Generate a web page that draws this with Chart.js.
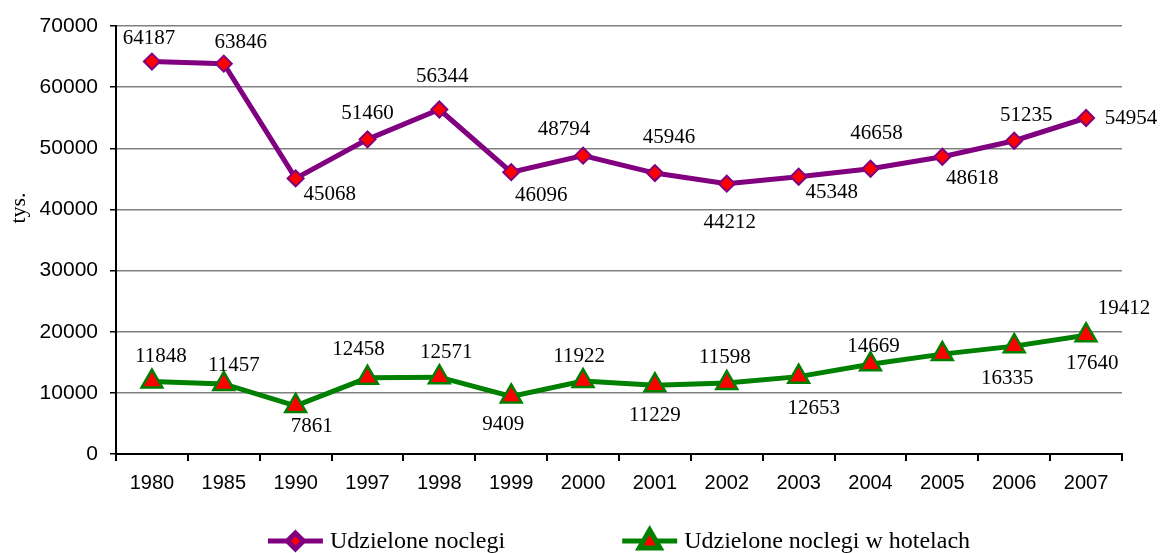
<!DOCTYPE html>
<html>
<head>
<meta charset="utf-8">
<script src="https://cdn.jsdelivr.net/npm/chart.js@4/dist/chart.umd.min.js"></script>
<style>
  body { margin: 0; background: #fff; }
  #wrap { width: 1162px; height: 553px; }
</style>
</head>
<body>
<div id="wrap"><canvas id="noclegi" width="1162" height="553"></canvas></div>
<script>
'use strict'

var years = ['1980','1985','1990','1997','1998','1999','2000','2001','2002','2003','2004','2005','2006','2007'];

var noclegi = [64187,63846,45068,51460,56344,46096,48794,45946,44212,45348,46658,48618,51235,54954];
var hotele  = [11848,11457,7861,12458,12571,9409,11922,11229,11598,12653,14669,16335,17640,19412];

var yTicks = [0,10000,20000,30000,40000,50000,60000,70000];

// label offsets in px from each point (as placed in the original)
var offNoclegi = [[-3,-23],[17,-21],[34,16],[0,-26],[3,-33],[30,23],[-19,-26],[14,-36],[3,39],[33,16],[6,-35],[30,22],[12,-25],[45,0]];
var offHotele  = [[9,-25],[10,-18],[16,21],[-9,-28],[7,-25],[-8,28],[-4,-25],[0,30],[-2,-26],[15,32],[3,-18],[65,24],[78,17],[38,-27]];

var PURPLE = '#800080', GREEN = '#008000', RED = '#ff0000';
var SERIF = '"Liberation Serif", "Times New Roman", serif';
var SANS = '"Liberation Sans", Arial, sans-serif';

function drawMarker(ctx, style, x, y) {
  if (style === 'rectRot') {
    Chart.helpers.drawPoint(ctx, {pointStyle: 'rectRot', radius: 8, borderWidth: 2}, x, y);
  } else {
    Chart.helpers.drawPoint(ctx, {pointStyle: 'triangle', radius: 12, borderWidth: 2.5}, x, y + 1);
  }
}

var extras = {
  id: 'extras',
  afterDatasetsDraw: function(chart) {
    var ctx = chart.ctx;
    var offs = [offNoclegi, offHotele];
    ctx.save();
    ctx.fillStyle = '#000';
    ctx.font = '21px ' + SERIF;
    ctx.textAlign = 'center';
    ctx.textBaseline = 'middle';
    chart.data.datasets.forEach(function(ds, d) {
      chart.getDatasetMeta(d).data.forEach(function(pt, i) {
        ctx.fillText(String(ds.data[i]), pt.x + offs[d][i][0], pt.y + offs[d][i][1]);
      });
    });

    // axis title
    ctx.save();
    ctx.translate(19, 208);
    ctx.rotate(-Math.PI / 2);
    ctx.font = '22px ' + SERIF;
    ctx.fillText('tys.', 0, 0);
    ctx.restore();

    // legend
    var area = chart.chartArea;
    ctx.font = '24px ' + SERIF;
    ctx.textAlign = 'left';
    var lineW = 55, gap = 7, between = 117;
    var items = chart.data.datasets.map(function(ds) {
      return {ds: ds, w: ctx.measureText(ds.label).width};
    });
    var total = items.reduce(function(s, it) { return s + lineW + gap + it.w; }, 0) + between * (items.length - 1);
    var x = (area.left + area.right) / 2 - total / 2;
    var y = 541;
    items.forEach(function(it) {
      ctx.strokeStyle = it.ds.borderColor;
      ctx.lineWidth = 5;
      ctx.beginPath();
      ctx.moveTo(x, y);
      ctx.lineTo(x + lineW, y);
      ctx.stroke();
      ctx.fillStyle = RED;
      ctx.strokeStyle = it.ds.pointBorderColor;
      drawMarker(ctx, it.ds.pointStyle, x + lineW / 2, y);
      ctx.fillStyle = '#000';
      ctx.fillText(it.ds.label, x + lineW + gap, y + 1);
      x += lineW + gap + it.w + between;
    });
    ctx.restore();
  }
};

var ctx = document.getElementById('noclegi');
var mychart = new Chart(ctx, {
  type: 'line',
  data: {
    labels: years,
    datasets: [{
      label: 'Udzielone noclegi',
      data: noclegi,
      borderColor: PURPLE,
      borderWidth: 5,
      pointStyle: 'rectRot',
      pointRadius: 8,
      pointBackgroundColor: RED,
      pointBorderColor: PURPLE,
      pointBorderWidth: 2,
      tension: 0
    }, {
      label: 'Udzielone noclegi w hotelach',
      data: hotele,
      borderColor: GREEN,
      borderWidth: 5,
      pointStyle: 'triangle',
      pointRadius: 12,
      pointBackgroundColor: RED,
      pointBorderColor: GREEN,
      pointBorderWidth: 2.5,
      tension: 0
    }]
  },
  options: {
    responsive: false,
    animation: false,
    layout: { padding: { left: 0, right: 40, top: 26, bottom: 0 } },
    plugins: { legend: { display: false }, tooltip: { enabled: false } },
    scales: {
      x: {
        offset: true,
        grid: { offset: true, drawOnChartArea: false, tickLength: 7, tickColor: '#000', lineWidth: 2 },
        border: { color: '#000', width: 2 },
        ticks: { color: '#000', font: { family: SANS, size: 20 }, padding: 10, maxRotation: 0, autoSkip: false },
        afterFit: function(s) { s.height = 99; }
      },
      y: {
        min: 0,
        max: 70000,
        afterBuildTicks: function(s) { s.ticks = yTicks.map(function(v) { return {value: v}; }); },
        grid: { color: '#808080', lineWidth: 1.5, tickLength: 6, tickColor: '#000' },
        border: { color: '#000', width: 2 },
        ticks: {
          color: '#000', font: { family: SANS, size: 21 }, padding: 12,
          callback: function(v) { return String(v); }
        },
        afterFit: function(s) { s.width = 116; }
      }
    }
  },
  plugins: [extras]
});
</script>
</body>
</html>
